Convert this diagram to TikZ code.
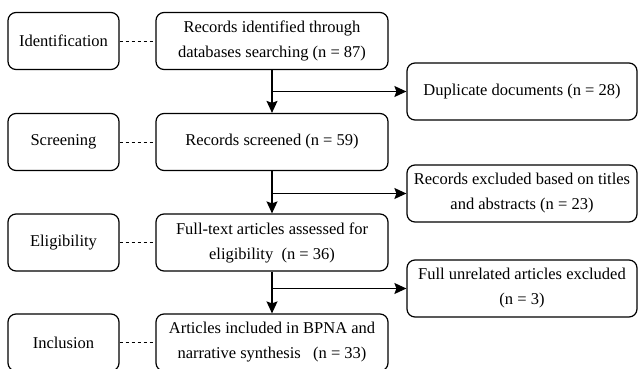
\documentclass[tikz,border=0pt]{standalone}
\usepackage{fontspec}
\setmainfont{Liberation Serif}
\usetikzlibrary{arrows.meta}
\begin{document}
\begin{tikzpicture}[x=1pt, y=-1pt,
  box/.style={draw, rounded corners=8pt, line width=1.2pt, align=center,
    inner sep=2pt, minimum height=57pt, font=\fontsize{16.5}{25}\selectfont},
  stagebox/.style={box, minimum width=111pt},
  mainbox/.style={box, minimum width=232pt},
  sidebox/.style={box, minimum width=230pt},
  flow/.style={line width=1.3pt, -{Stealth[length=12pt, width=11pt, inset=2pt]}},
  link/.style={line width=0.9pt, dash pattern=on 3pt off 3pt}]
  \useasboundingbox (0,0) rectangle (638,369);
  \clip (0,0) rectangle (638,369);
  % stages
  \node[stagebox] (ident) at (63.5,41) {Identification};
  \node[stagebox] (screen) at (63.5,142) {Screening};
  \node[stagebox] (elig) at (63.5,242.5) {Eligibility};
  \node[stagebox] (incl) at (63.5,342.5) {Inclusion};
  % main flow
  \node[mainbox] (found) at (272,41) {Records identified through\\databases searching (n = 87)};
  \node[mainbox] (screened) at (272,142) {Records screened (n = 59)};
  \node[mainbox] (assessed) at (272,242.5) {Full-text articles assessed for\\eligibility\ \ (n = 36)};
  \node[mainbox] (included) at (272,342.5) {Articles included in BPNA and\\narrative synthesis\ \ \ (n = 33)};
  % exclusions
  \node[sidebox] (dupl) at (522,91.5) {Duplicate documents (n = 28)};
  \node[sidebox] (titles) at (522,193.5) {Records excluded based on titles\\and abstracts (n = 23)};
  \node[sidebox] (unrel) at (522,288.5) {Full unrelated articles excluded\\(n = 3)};
  \draw[link] (ident) -- (found);
  \draw[link] (screen) -- (screened);
  \draw[link] (elig) -- (assessed);
  \draw[link] (incl) -- (included);
  \draw[flow] (found) -- (screened);
  \draw[flow] (screened) -- (assessed);
  \draw[flow] (assessed) -- (included);
  \draw[flow] (found.south |- dupl.west) -- (dupl);
  \draw[flow] (screened.south |- titles.west) -- (titles);
  \draw[flow] (assessed.south |- unrel.west) -- (unrel);
\end{tikzpicture}
\end{document}
